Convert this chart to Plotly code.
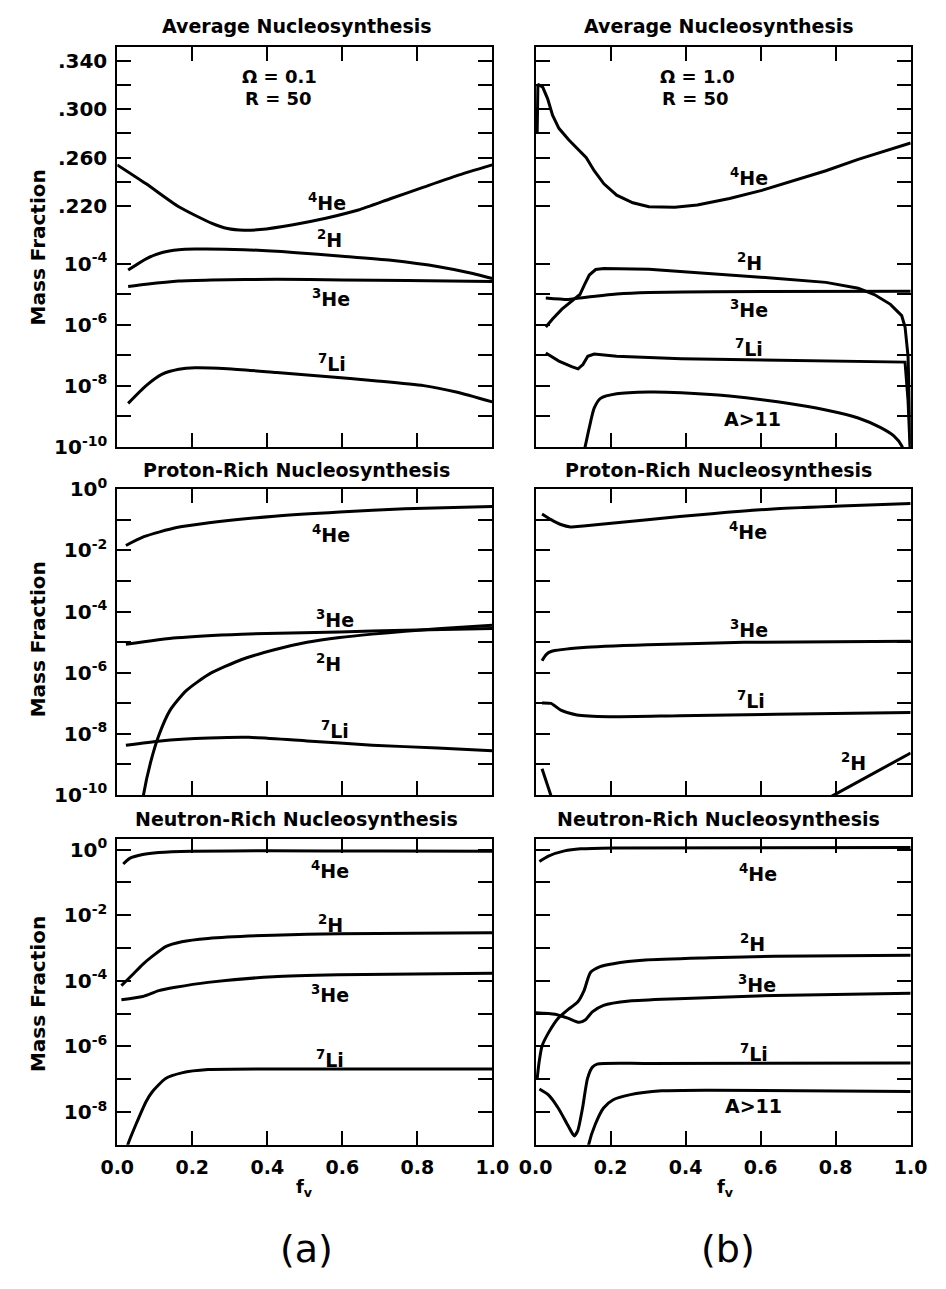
import plotly.graph_objects as go

# ======================= DATA =======================
# ---- (a) Omega = 0.1, R = 50 : Average nucleosynthesis ----
a_avg_he4_f = [0.0, 0.077, 0.164, 0.251, 0.294, 0.338, 0.381, 0.469, 0.556, 0.643, 0.730, 0.817, 0.904, 1.0]
a_avg_he4 = [0.254, 0.2384, 0.2195, 0.206, 0.2015, 0.2001, 0.2007, 0.2047, 0.210, 0.2168, 0.2263, 0.2357, 0.245, 0.254]
a_avg_h2_f = [0.029, 0.077, 0.12, 0.164, 0.207, 0.338, 0.469, 0.6, 0.73, 0.861, 0.948, 1.0]
a_avg_h2 = [6.2e-5, 1.45e-4, 2.34e-4, 2.88e-4, 3.02e-4, 2.88e-4, 2.34e-4, 1.76e-4, 1.29e-4, 7.8e-5, 4.8e-5, 3.3e-5]
a_avg_he3_f = [0.029, 0.077, 0.164, 0.251, 0.425, 0.6, 0.773, 1.0]
a_avg_he3 = [1.80e-5, 2.14e-5, 2.73e-5, 2.95e-5, 3.09e-5, 2.95e-5, 2.80e-5, 2.60e-5]
a_avg_li7_f = [0.029, 0.077, 0.12, 0.164, 0.207, 0.294, 0.425, 0.556, 0.686, 0.817, 0.904, 1.0]
a_avg_li7 = [2.67e-9, 1.02e-8, 2.42e-8, 3.49e-8, 3.94e-8, 3.66e-8, 2.75e-8, 2.04e-8, 1.48e-8, 1.02e-8, 6.3e-9, 3.0e-9]

# ---- (b) Omega = 1.0, R = 50 : Average nucleosynthesis ----
b_avg_he4_f = [0.004, 0.006, 0.019, 0.032, 0.045, 0.062, 0.088, 0.113, 0.135, 0.156, 0.182, 0.216, 0.259,
               0.302, 0.371, 0.431, 0.517, 0.603, 0.688, 0.774, 0.86, 0.946, 1.0]
b_avg_he4 = [0.280, 0.3206, 0.318, 0.3085, 0.295, 0.2842, 0.2748, 0.2667, 0.260, 0.2492, 0.2384, 0.229, 0.2228,
             0.2195, 0.219, 0.2209, 0.2263, 0.233, 0.2411, 0.2492, 0.2586, 0.2667, 0.2721]
b_avg_h2_f = [0.027, 0.045, 0.07, 0.096, 0.118, 0.13, 0.143, 0.16, 0.182, 0.302, 0.474, 0.645, 0.774, 0.86,
              0.903, 0.946, 0.976, 0.985, 0.993, 0.997, 1.0]
b_avg_h2 = [8.5e-7, 1.55e-6, 3.24e-6, 6.0e-6, 9.8e-6, 2.04e-5, 4.27e-5, 6.46e-5, 6.92e-5, 6.61e-5, 4.79e-5,
            3.31e-5, 2.45e-5, 1.58e-5, 9.8e-6, 4.68e-6, 2.0e-6, 8.5e-7, 9.3e-8, 2.3e-9, 5e-11]
b_avg_he3_f = [0.027, 0.088, 0.13, 0.216, 0.302, 0.474, 1.0]
b_avg_he3 = [7.6e-6, 6.8e-6, 7.9e-6, 1.02e-5, 1.15e-5, 1.22e-5, 1.26e-5]
b_avg_li7_f = [0.027, 0.062, 0.096, 0.113, 0.126, 0.139, 0.156, 0.216, 0.388, 0.645, 0.985, 0.993, 1.0]
b_avg_li7 = [1.19e-7, 6.5e-8, 4.3e-8, 3.6e-8, 5.0e-8, 9.3e-8, 1.10e-7, 9.3e-8, 7.8e-8, 6.8e-8, 6.0e-8, 3.2e-9, 3.2e-11]
b_avg_a11_f = [0.13, 0.143, 0.156, 0.173, 0.216, 0.302, 0.388, 0.517, 0.645, 0.774, 0.86, 0.92, 0.955, 0.976, 0.985]
b_avg_a11 = [7.9e-11, 4.3e-10, 1.86e-9, 3.9e-9, 5.5e-9, 6.3e-9, 6.0e-9, 4.7e-9, 3.0e-9, 1.62e-9, 8.9e-10,
             4.3e-10, 2.3e-10, 1.1e-10, 5e-11]

# ---- (a) Proton-rich ----
a_pr_he4_f = [0.023, 0.071, 0.158, 0.245, 0.419, 0.593, 0.767, 1.0]
a_pr_he4 = [0.0145, 0.0282, 0.0562, 0.0813, 0.132, 0.182, 0.232, 0.275]
a_pr_he3_f = [0.023, 0.158, 0.332, 0.593, 0.767, 1.0]
a_pr_he3 = [8.5e-6, 1.38e-5, 1.82e-5, 2.14e-5, 2.45e-5, 2.8e-5]
a_pr_h2_f = [0.065, 0.07, 0.089, 0.11, 0.141, 0.184, 0.245, 0.332, 0.419, 0.506, 0.593, 0.68, 0.767, 0.854, 1.0]
a_pr_h2 = [3.2e-11, 1.0e-10, 1.17e-9, 8.3e-9, 5.9e-8, 2.57e-7, 8.9e-7, 2.69e-6, 5.6e-6, 9.8e-6, 1.41e-5,
           1.82e-5, 2.24e-5, 2.75e-5, 3.55e-5]
a_pr_li7_f = [0.023, 0.115, 0.245, 0.35, 0.506, 0.68, 0.854, 1.0]
a_pr_li7 = [4.2e-9, 5.8e-9, 7.2e-9, 7.6e-9, 5.8e-9, 4.2e-9, 3.4e-9, 2.75e-9]

# ---- (b) Proton-rich ----
b_pr_he4_f = [0.017, 0.041, 0.067, 0.093, 0.127, 0.298, 0.47, 0.642, 0.813, 1.0]
b_pr_he4 = [0.157, 0.102, 0.0708, 0.0589, 0.0631, 0.102, 0.160, 0.232, 0.288, 0.347]
b_pr_he3_f = [0.017, 0.028, 0.041, 0.127, 0.298, 0.556, 1.0]
b_pr_he3 = [2.45e-6, 3.9e-6, 4.9e-6, 6.6e-6, 8.1e-6, 9.8e-6, 1.07e-5]
b_pr_li7_f = [0.017, 0.041, 0.067, 0.11, 0.196, 0.384, 0.642, 1.0]
b_pr_li7 = [1.02e-7, 9.8e-8, 5.9e-8, 4.1e-8, 3.6e-8, 3.9e-8, 4.3e-8, 4.9e-8]
b_pr_h2_f = [0.017, 0.028, 0.041, 0.046, None, 0.79, 0.899, 1.0]
b_pr_h2 = [7.1e-10, 2.7e-10, 1.0e-10, 6e-11, None, 9e-11, 4.9e-10, 2.34e-9]

# ---- (a) Neutron-rich ----
a_nr_he4_f = [0.016, 0.033, 0.068, 0.111, 0.198, 0.4, 0.7, 1.0]
a_nr_he4 = [0.363, 0.537, 0.708, 0.813, 0.891, 0.912, 0.902, 0.891]
a_nr_h2_f = [0.011, 0.042, 0.068, 0.094, 0.129, 0.172, 0.242, 0.416, 0.59, 1.0]
a_nr_h2 = [7.1e-5, 1.58e-4, 3.16e-4, 5.6e-4, 1.10e-3, 1.55e-3, 1.95e-3, 2.45e-3, 2.69e-3, 2.88e-3]
a_nr_he3_f = [0.011, 0.068, 0.111, 0.155, 0.242, 0.416, 0.59, 1.0]
a_nr_he3 = [2.63e-5, 3.31e-5, 5.0e-5, 6.3e-5, 8.9e-5, 1.32e-4, 1.51e-4, 1.70e-4]
a_nr_li7_f = [0.02, 0.029, 0.05, 0.077, 0.094, 0.129, 0.172, 0.242, 0.416, 1.0]
a_nr_li7 = [5.0e-10, 1.07e-9, 4.2e-9, 2.09e-8, 4.2e-8, 1.05e-7, 1.55e-7, 1.95e-7, 2.04e-7, 2.04e-7]

# ---- (b) Neutron-rich ----
b_nr_he4_f = [0.01, 0.034, 0.077, 0.12, 0.207, 1.0]
b_nr_he4 = [0.43, 0.63, 0.91, 1.05, 1.12, 1.15]
b_nr_h2_f = [0.004, 0.009, 0.017, 0.034, 0.06, 0.086, 0.112, 0.129, 0.146, 0.172, 0.207, 0.293, 0.465, 0.637, 1.0]
b_nr_h2 = [1.02e-7, 3.2e-7, 1.02e-6, 2.57e-6, 7.2e-6, 1.32e-5, 2.24e-5, 5.0e-5, 1.78e-4, 2.69e-4, 3.31e-4,
           4.27e-4, 5.0e-4, 5.6e-4, 6.0e-4]
b_nr_he3_f = [0.0, 0.052, 0.086, 0.116, 0.133, 0.151, 0.181, 0.25, 0.379, 0.637, 1.0]
b_nr_he3 = [1.06e-5, 9.5e-6, 7.2e-6, 5.4e-6, 6.5e-6, 1.12e-5, 1.78e-5, 2.4e-5, 2.82e-5, 3.55e-5, 4.17e-5]
b_nr_li7_f = [0.01, 0.034, 0.06, 0.082, 0.099, 0.103, 0.112, 0.125, 0.138, 0.151, 0.164, 0.293, 1.0]
b_nr_li7 = [5.0e-8, 3.3e-8, 1.32e-8, 4.7e-9, 2.09e-9, 1.86e-9, 2.63e-9, 1.32e-8, 1.02e-7, 2.29e-7, 2.88e-7,
            3.02e-7, 3.09e-7]
b_nr_a11_f = [0.138, 0.142, 0.159, 0.181, 0.207, 0.25, 0.336, 0.465, 1.0]
b_nr_a11 = [5e-10, 1.07e-9, 4.2e-9, 1.32e-8, 2.34e-8, 3.31e-8, 4.4e-8, 4.6e-8, 4.2e-8]

# tick labels
x_tick_vals = [0.0, 0.2, 0.4, 0.6, 0.8, 1.0]
x_tick_text = ["0.0", "0.2", "0.4", "0.6", "0.8", "1.0"]
lin_tick_vals = [0.22, 0.24, 0.26, 0.28, 0.30, 0.32, 0.34]
lin_tick_text = [".220", "", ".260", "", ".300", "", ".340"]
panel_titles = ["Average Nucleosynthesis", "Proton-Rich Nucleosynthesis", "Neutron-Rich Nucleosynthesis"]

# ======================= LAYOUT HELPERS =======================
W, H = 946, 1289
FONT = "DejaVu Sans"


def px(p):
    return p / W


def py(p):
    return 1 - p / H


def logticks(lo, hi):
    vals, text = [], []
    for e in range(hi, lo - 1, -1):
        vals.append(10.0 ** e)
        text.append("10<sup>%d</sup>" % e if e % 2 == 0 else "")
    return vals, text


tickfont = dict(family=FONT, size=20, color="black", weight="bold")
base_axis = dict(showline=True, linewidth=2, linecolor="black", ticks="inside", ticklen=14, tickwidth=2,
                 tickcolor="black", showgrid=False, zeroline=False, fixedrange=True, tickfont=tickfont)

XL = [px(104), px(493)]
XR = [px(538), px(927)]
R1U = [py(222.7), py(34)]
R1L = [py(442), py(222.7)]
R2 = [py(797), py(485)]
R3 = [py(1154), py(842)]

layout = dict(width=W, height=H, margin=dict(l=0, r=0, t=0, b=0), plot_bgcolor="white", paper_bgcolor="white",
              showlegend=False, font=dict(family=FONT, color="black", weight="bold"))

subplots = [
    (1, XL, R1U, "lin"), (2, XL, R1L, "r1log"),
    (3, XR, R1U, "lin"), (4, XR, R1L, "r1log"),
    (5, XL, R2, "r2"), (6, XR, R2, "r2"),
    (7, XL, R3, "r3"), (8, XR, R3, "r3"),
]
for idx, xd, yd, kind in subplots:
    xa = dict(base_axis, domain=xd, anchor="y%d" % idx, range=[0, 1])
    ya = dict(base_axis, domain=yd, anchor="x%d" % idx, mirror="ticks")
    left = xd is XL
    if kind == "lin":
        xa.update(side="top", mirror=False, tickvals=x_tick_vals[1:-1], showticklabels=False)
        ya.update(range=[0.1985, 0.351], tickvals=lin_tick_vals, ticktext=lin_tick_text)
    elif kind == "r1log":
        xa.update(side="bottom", mirror=False, tickvals=x_tick_vals[1:-1], showticklabels=False)
        v, t = logticks(-10, -3)
        ya.update(type="log", range=[-10.004, -2.968], tickvals=v, ticktext=t)
    elif kind == "r2":
        xa.update(mirror="ticks", tickvals=x_tick_vals[1:-1], showticklabels=False)
        v, t = logticks(-10, 0)
        ya.update(type="log", range=[-10.005, 0.005], tickvals=v, ticktext=t)
    else:
        xa.update(mirror="ticks", tickvals=x_tick_vals, ticktext=x_tick_text, showticklabels=True,
                  tickfont=dict(tickfont, size=19), ticklabelstandoff=4)
        v, t = logticks(-9, 0)
        ya.update(type="log", range=[-9.0, 0.32], tickvals=v, ticktext=t)
    ya.update(showticklabels=left, ticklabelstandoff=4)
    layout["xaxis%d" % idx] = xa
    layout["yaxis%d" % idx] = ya

fig = go.Figure(layout=layout)


def add(idx, xs, ys, shape="spline"):
    line = dict(color="black", width=3, shape=shape)
    if shape == "spline":
        line["smoothing"] = 0.6
    fig.add_trace(go.Scatter(x=xs, y=ys, mode="lines", line=line, xaxis="x%d" % idx, yaxis="y%d" % idx,
                             hoverinfo="skip", connectgaps=False))


# top row
add(1, a_avg_he4_f, a_avg_he4)
add(2, a_avg_h2_f, a_avg_h2)
add(2, a_avg_he3_f, a_avg_he3)
add(2, a_avg_li7_f, a_avg_li7)
add(3, b_avg_he4_f, b_avg_he4, "linear")
add(4, b_avg_h2_f, b_avg_h2, "linear")
add(4, b_avg_he3_f, b_avg_he3)
add(4, b_avg_li7_f, b_avg_li7, "linear")
add(4, b_avg_a11_f, b_avg_a11)
# middle row
add(5, a_pr_he4_f, a_pr_he4)
add(5, a_pr_he3_f, a_pr_he3)
add(5, a_pr_h2_f, a_pr_h2)
add(5, a_pr_li7_f, a_pr_li7)
add(6, b_pr_he4_f, b_pr_he4)
add(6, b_pr_he3_f, b_pr_he3)
add(6, b_pr_li7_f, b_pr_li7)
add(6, b_pr_h2_f, b_pr_h2, "linear")
# bottom row
add(7, a_nr_he4_f, a_nr_he4)
add(7, a_nr_h2_f, a_nr_h2)
add(7, a_nr_he3_f, a_nr_he3)
add(7, a_nr_li7_f, a_nr_li7)
add(8, b_nr_he4_f, b_nr_he4)
add(8, b_nr_h2_f, b_nr_h2)
add(8, b_nr_he3_f, b_nr_he3)
add(8, b_nr_li7_f, b_nr_li7)
add(8, b_nr_a11_f, b_nr_a11)

lab_font = dict(family=FONT, size=19, color="black", weight="bold")


def label(idx, x, y, text, size=19):
    fig.add_annotation(x=x, y=y, xref="x%d" % idx, yref="y%d" % idx, text=text, showarrow=False,
                       font=dict(lab_font, size=size), xanchor="center", yanchor="middle")


HE4, HE3, H2, LI7 = "<sup>4</sup>He", "<sup>3</sup>He", "<sup>2</sup>H", "<sup>7</sup>Li"
# (a) average
label(1, 0.432, 0.3273, "Ω = 0.1", 18)
label(1, 0.43, 0.3085, "R = 50", 18)
label(1, 0.56, 0.2236, HE4)
label(2, 0.565, -3.2, H2)
label(2, 0.569, -5.12, HE3)
label(2, 0.573, -7.245, LI7)
# (b) average
label(3, 0.431, 0.3273, "Ω = 1.0", 18)
label(3, 0.427, 0.3085, "R = 50", 18)
label(3, 0.57, 0.2438, HE4)
label(4, 0.57, -3.95, H2)
label(4, 0.57, -5.49, HE3)
label(4, 0.57, -6.77, LI7)
label(4, 0.577, -9.1, "A&gt;11")
# proton-rich
label(5, 0.571, -1.47, HE4)
label(5, 0.58, -4.24, HE3)
label(5, 0.563, -5.68, H2)
label(5, 0.58, -7.87, LI7)
label(6, 0.566, -1.36, HE4)
label(6, 0.569, -4.56, HE3)
label(6, 0.575, -6.91, LI7)
label(6, 0.847, -8.93, H2)
# neutron-rich
label(7, 0.568, -0.62, HE4)
label(7, 0.568, -2.26, H2)
label(7, 0.568, -4.40, HE3)
label(7, 0.568, -6.39, LI7)
label(8, 0.594, -0.72, HE4)
label(8, 0.577, -2.86, H2)
label(8, 0.59, -4.10, HE3)
label(8, 0.583, -6.19, LI7)
label(8, 0.581, -7.83, "A&gt;11")


def ptext(x, y, text, size, weight="bold", angle=0):
    fig.add_annotation(x=px(x), y=py(y), xref="paper", yref="paper", text=text, showarrow=False,
                       textangle=angle, xanchor="center", yanchor="middle",
                       font=dict(family=FONT, size=size, color="black", weight=weight))


# panel titles
for row_y, title in zip([12, 465, 822], panel_titles):
    ptext(290, row_y, title, 19)
    ptext(728, row_y, title, 19)
# y-axis titles
for cy in [238, 638, 1000]:
    ptext(22, cy, "Mass Fraction", 20, angle=-90)
# x-axis titles
ptext(298, 1198, "f<sub>v</sub>", 18)
ptext(735, 1198, "f<sub>v</sub>", 18)
# panel letters
ptext(300, 1260, "(a)", 38, weight="normal")
ptext(738, 1260, "(b)", 38, weight="normal")

fig.write_html("out.html", config={"displayModeBar": False, "staticPlot": True},
               post_script="document.body.style.margin='0px';document.body.style.overflow='hidden';")
